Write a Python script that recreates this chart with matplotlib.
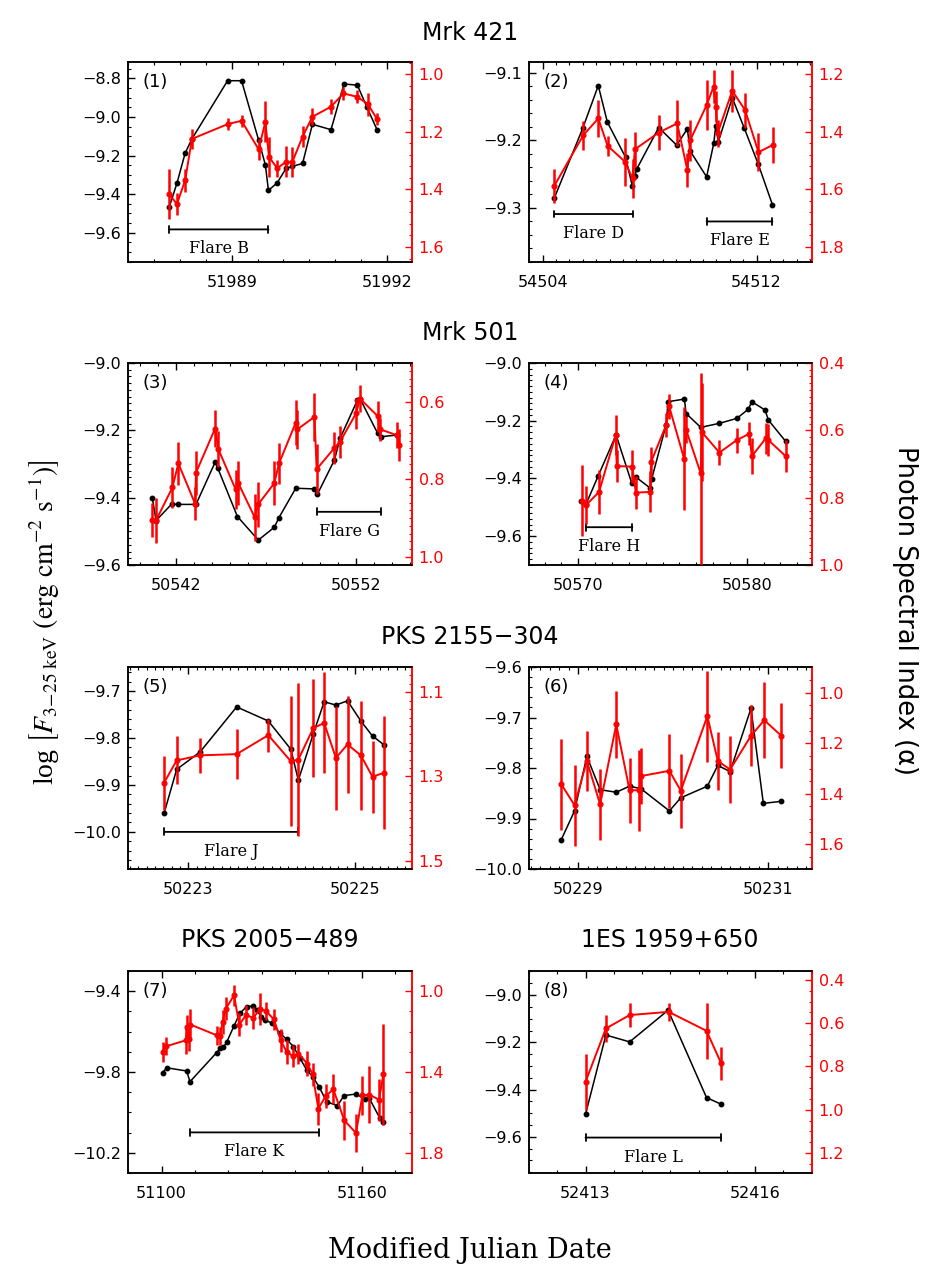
import matplotlib
matplotlib.use("Agg")
import matplotlib.pyplot as plt
from matplotlib.ticker import FixedLocator, AutoMinorLocator, FuncFormatter

# ---------------- data ----------------
# Panel 1: Mrk 421
mjd1_flux = [51987.79, 51987.94, 51988.10, 51988.23, 51988.92, 51989.19, 51989.52, 51989.65, 51989.71,
             51989.88, 51990.05, 51990.17, 51990.37, 51990.56, 51990.92, 51991.17, 51991.43, 51991.61, 51991.81]
flux1 = [-9.469, -9.344, -9.187, -9.114, -8.812, -8.812, -9.120, -9.248, -9.381, -9.341, -9.267, -9.256,
         -9.241, -9.038, -9.066, -8.829, -8.835, -8.947, -9.066]
mjd1_idx = [51987.79, 51987.94, 51988.10, 51988.23, 51988.93, 51989.19, 51989.52, 51989.65, 51989.72,
            51989.88, 51990.05, 51990.17, 51990.37, 51990.56, 51990.92, 51991.16, 51991.43, 51991.63, 51991.81]
idx1 = [1.416, 1.451, 1.368, 1.225, 1.173, 1.162, 1.261, 1.166, 1.287, 1.327, 1.304, 1.306, 1.217, 1.148,
        1.113, 1.067, 1.079, 1.104, 1.156]
idxerr1 = [0.086, 0.039, 0.040, 0.034, 0.020, 0.021, 0.036, 0.071, 0.069, 0.030, 0.053, 0.052, 0.036, 0.029,
           0.025, 0.023, 0.023, 0.040, 0.021]

# Panel 2: Mrk 421
mjd2_flux = [54504.44, 54505.50, 54506.08, 54506.42, 54507.10, 54507.35, 54507.45, 54507.51, 54508.34, 54509.01,
             54509.41, 54509.52, 54510.13, 54510.40, 54510.47, 54510.57, 54511.09, 54511.54, 54512.06, 54512.59]
flux2 = [-9.285, -9.182, -9.119, -9.173, -9.225, -9.267, -9.253, -9.243, -9.181, -9.207, -9.183, -9.216,
         -9.254, -9.204, -9.179, -9.202, -9.137, -9.182, -9.235, -9.295]
mjd2_idx = [54504.44, 54505.52, 54506.08, 54506.43, 54507.08, 54507.36, 54507.45, 54508.34, 54509.03, 54509.41,
            54509.52, 54510.13, 54510.39, 54510.47, 54510.54, 54511.09, 54511.57, 54512.07, 54512.60]
idx2 = [1.587, 1.412, 1.354, 1.449, 1.504, 1.562, 1.461, 1.403, 1.371, 1.533, 1.429, 1.308, 1.244, 1.313,
        1.406, 1.258, 1.325, 1.471, 1.446]
idxerr2 = [0.059, 0.050, 0.065, 0.035, 0.083, 0.069, 0.060, 0.060, 0.080, 0.060, 0.071, 0.087, 0.058, 0.054,
           0.047, 0.072, 0.061, 0.066, 0.064]

# Panel 3: Mrk 501
mjd3_flux = [50540.69, 50540.89, 50541.76, 50542.13, 50543.11, 50544.17, 50544.31, 50545.41, 50546.57, 50547.46,
             50547.72, 50548.65, 50549.67, 50549.85, 50550.80, 50551.11, 50552.07, 50552.22, 50553.20, 50553.37,
             50554.26]
flux3 = [-9.402, -9.468, -9.419, -9.420, -9.420, -9.295, -9.311, -9.456, -9.526, -9.488, -9.459, -9.372,
         -9.374, -9.390, -9.288, -9.224, -9.111, -9.106, -9.209, -9.219, -9.214]
mjd3_idx = [50540.69, 50540.89, 50541.80, 50542.13, 50543.06, 50543.11, 50544.17, 50544.35, 50545.31, 50545.46,
            50546.37, 50546.57, 50547.46, 50547.72, 50548.65, 50548.74, 50549.69, 50549.81, 50550.78, 50551.11,
            50552.00, 50552.22, 50553.20, 50553.33, 50554.26, 50554.41]
idx3 = [0.905, 0.906, 0.821, 0.759, 0.863, 0.783, 0.669, 0.722, 0.826, 0.810, 0.898, 0.864, 0.810, 0.759,
        0.654, 0.671, 0.639, 0.774, 0.720, 0.703, 0.630, 0.592, 0.637, 0.671, 0.686, 0.712]
idxerr3 = [0.043, 0.057, 0.053, 0.056, 0.043, 0.057, 0.047, 0.047, 0.051, 0.056, 0.060, 0.058, 0.056, 0.053,
           0.058, 0.050, 0.062, 0.064, 0.041, 0.041, 0.039, 0.034, 0.040, 0.029, 0.033, 0.041]

# Panel 4: Mrk 501
mjd4_flux = [50570.16, 50570.46, 50571.19, 50572.24, 50573.17, 50573.41, 50574.26, 50574.36, 50575.21, 50575.33,
             50576.30, 50576.40, 50577.27, 50578.38, 50579.41, 50580.10, 50580.30, 50581.09, 50581.29, 50582.32]
flux4 = [-9.479, -9.489, -9.390, -9.249, -9.416, -9.395, -9.433, -9.401, -9.215, -9.134, -9.125, -9.175,
         -9.223, -9.209, -9.192, -9.160, -9.134, -9.163, -9.198, -9.272]
mjd4_idx = [50570.20, 50570.46, 50571.23, 50572.22, 50572.28, 50573.21, 50573.41, 50574.26, 50574.32, 50575.21,
            50575.39, 50576.28, 50576.40, 50577.27, 50577.33, 50578.38, 50579.41, 50580.16, 50580.30, 50581.13,
            50581.29, 50582.32]
idx4 = [0.809, 0.822, 0.783, 0.614, 0.706, 0.708, 0.785, 0.783, 0.694, 0.585, 0.528, 0.684, 0.598, 0.728,
        0.605, 0.666, 0.629, 0.610, 0.677, 0.624, 0.629, 0.677]
idxerr4 = [0.106, 0.056, 0.065, 0.059, 0.047, 0.049, 0.049, 0.061, 0.044, 0.035, 0.037, 0.153, 0.040, 0.297,
           0.146, 0.037, 0.037, 0.035, 0.054, 0.047, 0.047, 0.047]

# Panel 5: PKS 2155-304
mjd5_flux = [50222.71, 50222.86, 50223.14, 50223.58, 50223.96, 50224.23, 50224.32, 50224.50, 50224.63, 50224.77,
             50224.91, 50225.07, 50225.21, 50225.35]
flux5 = [-9.960, -9.867, -9.830, -9.734, -9.764, -9.824, -9.890, -9.791, -9.723, -9.730, -9.721, -9.764,
         -9.796, -9.815]
mjd5_idx = [50222.71, 50222.86, 50223.14, 50223.58, 50223.96, 50224.23, 50224.32, 50224.50, 50224.63, 50224.77,
            50224.91, 50225.07, 50225.21, 50225.35]
idx5 = [1.315, 1.262, 1.250, 1.247, 1.202, 1.264, 1.260, 1.185, 1.173, 1.256, 1.224, 1.250, 1.301, 1.291]
idxerr5 = [0.064, 0.057, 0.041, 0.059, 0.039, 0.155, 0.181, 0.117, 0.120, 0.124, 0.115, 0.130, 0.086, 0.135]

# Panel 6: PKS 2155-304
mjd6_flux = [50228.82, 50228.96, 50229.09, 50229.23, 50229.40, 50229.54, 50229.66, 50229.96, 50230.08, 50230.36,
             50230.47, 50230.60, 50230.82, 50230.95, 50231.14]
flux6 = [-9.942, -9.885, -9.777, -9.843, -9.848, -9.836, -9.841, -9.885, -9.859, -9.836, -9.795, -9.807,
         -9.682, -9.870, -9.866]
mjd6_idx = [50228.82, 50228.96, 50229.09, 50229.23, 50229.40, 50229.54, 50229.64, 50229.66, 50229.96, 50230.08,
            50230.36, 50230.47, 50230.60, 50230.82, 50230.96, 50231.14]
idx6 = [1.362, 1.445, 1.270, 1.442, 1.126, 1.386, 1.386, 1.330, 1.309, 1.388, 1.093, 1.270, 1.304, 1.171,
        1.109, 1.171]
idxerr6 = [0.179, 0.160, 0.120, 0.141, 0.134, 0.129, 0.160, 0.110, 0.147, 0.147, 0.180, 0.114, 0.133, 0.120,
           0.151, 0.128]

# Panel 7: PKS 2005-489
mjd7_flux = [51100.3, 51101.5, 51107.5, 51108.5, 51116.5, 51117.5, 51118.5, 51119.5, 51121.7, 51123.5, 51125.5,
             51127.5, 51128.7, 51129.7, 51131.0, 51133.1, 51135.5, 51137.5, 51139.5, 51141.5, 51143.5, 51145.3,
             51147.2, 51149.5, 51152.7, 51154.7, 51158.3, 51161.0, 51162.3, 51165.5, 51166.5]
flux7 = [-9.803, -9.779, -9.795, -9.848, -9.704, -9.683, -9.678, -9.653, -9.572, -9.509, -9.476, -9.473,
         -9.493, -9.526, -9.542, -9.559, -9.608, -9.638, -9.674, -9.732, -9.790, -9.823, -9.873, -9.947,
         -9.967, -9.917, -9.909, -9.934, -9.931, -10.030, -10.046]
mjd7_idx = [51100.3, 51101.3, 51107.3, 51107.7, 51108.3, 51108.6, 51116.5, 51117.5, 51118.3, 51119.3, 51121.7,
            51123.3, 51125.3, 51127.5, 51129.5, 51131.3, 51133.7, 51135.7, 51137.5, 51139.5, 51141.0, 51143.7,
            51145.3, 51147.0, 51149.2, 51151.5, 51154.8, 51158.3, 51160.2, 51162.3, 51165.2, 51166.5]
idx7 = [1.301, 1.273, 1.243, 1.177, 1.235, 1.165, 1.218, 1.221, 1.152, 1.086, 1.020, 1.165, 1.119, 1.131,
        1.089, 1.098, 1.140, 1.243, 1.301, 1.322, 1.309, 1.359, 1.412, 1.582, 1.519, 1.486, 1.640, 1.702,
        1.516, 1.512, 1.537, 1.412]
idxerr7 = [0.048, 0.045, 0.066, 0.058, 0.060, 0.076, 0.046, 0.046, 0.058, 0.055, 0.053, 0.056, 0.050, 0.055,
           0.079, 0.046, 0.050, 0.058, 0.058, 0.055, 0.050, 0.063, 0.058, 0.079, 0.058, 0.074, 0.096, 0.096,
           0.096, 0.140, 0.104, 0.251]

# Panel 8: 1ES 1959+650
mjd8_flux = [52413.00, 52413.36, 52413.78, 52414.46, 52415.14, 52415.40]
flux8 = [-9.504, -9.169, -9.198, -9.064, -9.434, -9.462]
mjd8_idx = [52413.00, 52413.36, 52413.78, 52414.47, 52415.14, 52415.40]
idx8 = [0.871, 0.624, 0.562, 0.547, 0.635, 0.786]
idxerr8 = [0.131, 0.062, 0.054, 0.042, 0.131, 0.077]

# Flare intervals: (name, start MJD, end MJD, flux level of the bar)
flares1 = [("Flare B", 51987.79, 51989.71, -9.583)]
flares2 = [("Flare D", 54504.44, 54507.36, -9.309), ("Flare E", 54510.13, 54512.59, -9.320)]
flares3 = [("Flare G", 50549.85, 50553.37, -9.442)]
flares4 = [("Flare H", 50570.46, 50573.21, -9.569)]
flares5 = [("Flare J", 50222.71, 50224.32, -10.0)]
flares6 = []
flares7 = [("Flare K", 51108.5, 51147.2, -10.099)]
flares8 = [("Flare L", 52413.00, 52415.40, -9.603)]

sources = ["Mrk 421", "Mrk 501", "PKS 2155\u2212304", "PKS 2005\u2212489", "1ES 1959+650"]

# ---------------- drawing ----------------
W, H = 941, 1268
fig = plt.figure(figsize=(W / 100, H / 100), dpi=100)
plt.rcParams['font.family'] = ['DejaVu Sans']
plt.rcParams['mathtext.fontset'] = 'stix'

colx = [128.3, 529.0]
colw = [283.4, 282.7]
rows = [(62, 262), (363, 565), (667, 869), (971, 1173)]


def minus(v, fmt):
    return (fmt % v).replace('-', '\u2212')


def panel(col, row, tag, bx, by, rx, ry, re, flares,
          xlim, xt, xmin_n, ylim, yt, ymin_n, rlim, rt, rmin_n):
    top, bot = rows[row]
    ax = fig.add_axes([colx[col] / W, 1 - bot / H, colw[col] / W, (bot - top) / H])
    ax.plot(bx, by, '-o', color='black', lw=1.1, ms=3.2, zorder=3)
    ax.set_xlim(xlim)
    ax.set_ylim(ylim)
    ax.xaxis.set_major_locator(FixedLocator(xt))
    ax.xaxis.set_minor_locator(AutoMinorLocator(xmin_n))
    ax.xaxis.set_major_formatter(FuncFormatter(lambda v, p: '%d' % round(v)))
    ax.yaxis.set_major_locator(FixedLocator(yt))
    ax.yaxis.set_minor_locator(AutoMinorLocator(ymin_n))
    ax.yaxis.set_major_formatter(FuncFormatter(lambda v, p: minus(v, '%.1f')))
    ax.tick_params(axis='both', which='both', direction='in', top=True, labelsize=11.5)
    ax.tick_params(axis='both', which='major', length=5, width=1)
    ax.tick_params(axis='both', which='minor', length=2.5, width=0.8)
    ax.tick_params(axis='x', which='major', pad=9)
    ax.tick_params(axis='y', which='major', pad=5)
    for s in ax.spines.values():
        s.set_linewidth(1.1)
    ax.spines['right'].set_color('red')

    for name, x0, x1, lev in flares:
        ax.annotate('', xy=(x0, lev), xytext=(x1, lev),
                    arrowprops=dict(arrowstyle='|-|,widthA=0.25,widthB=0.25', color='black', lw=1.3,
                                    shrinkA=0, shrinkB=0))
        ax.annotate(name, xy=((x0 + x1) / 2, lev), xytext=(0, -14), textcoords='offset points',
                    ha='center', va='center', fontsize=11.5, family='DejaVu Serif')

    ax.text(0.05, 0.945, tag, transform=ax.transAxes, ha='left', va='top', fontsize=13)

    tw = ax.twinx()
    tw.errorbar(rx, ry, yerr=re, color='red', lw=1.4, elinewidth=1.8, marker='o', ms=3.4,
                capsize=0, zorder=4)
    tw.set_ylim(rlim)
    tw.yaxis.set_major_locator(FixedLocator(rt))
    tw.yaxis.set_minor_locator(AutoMinorLocator(rmin_n))
    tw.yaxis.set_major_formatter(FuncFormatter(lambda v, p: '%.1f' % v))
    tw.tick_params(axis='y', which='both', direction='in', colors='red', labelsize=11.5, pad=5)
    tw.tick_params(axis='y', which='major', length=5, width=1)
    tw.tick_params(axis='y', which='minor', length=2.5, width=0.8)
    for s in tw.spines.values():
        s.set_linewidth(1.1)
    tw.spines['right'].set_color('red')
    tw.spines['left'].set_color('black')
    return ax


panel(0, 0, '(1)', mjd1_flux, flux1, mjd1_idx, idx1, idxerr1, flares1,
      (51987.0, 51992.48), [51989, 51992], 6,
      (-9.752, -8.715), [-9.6, -9.4, -9.2, -9.0, -8.8], 4,
      (1.652, 0.958), [1.0, 1.2, 1.4, 1.6], 5)
panel(1, 0, '(2)', mjd2_flux, flux2, mjd2_idx, idx2, idxerr2, flares2,
      (54503.49, 54514.06), [54504, 54512], 16,
      (-9.380, -9.084), [-9.3, -9.2, -9.1], 5,
      (1.852, 1.158), [1.2, 1.4, 1.6, 1.8], 5)
panel(0, 1, '(3)', mjd3_flux, flux3, mjd3_idx, idx3, idxerr3, flares3,
      (50539.35, 50555.09), [50542, 50552], 10,
      (-9.6, -9.0), [-9.6, -9.4, -9.2, -9.0], 10,
      (1.021, 0.5), [0.6, 0.8, 1.0], 10)
panel(1, 1, '(4)', mjd4_flux, flux4, mjd4_idx, idx4, idxerr4, flares4,
      (50567.07, 50583.86), [50570, 50580], 10,
      (-9.7, -9.0), [-9.6, -9.4, -9.2, -9.0], 10,
      (1.0, 0.4), [0.4, 0.6, 0.8, 1.0], 10)
panel(0, 2, '(5)', mjd5_flux, flux5, mjd5_idx, idx5, idxerr5, flares5,
      (50222.28, 50225.68), [50223, 50225], 20,
      (-10.079, -9.649), [-10.0, -9.9, -9.8, -9.7], 5,
      (1.52, 1.04), [1.1, 1.3, 1.5], 10)
panel(1, 2, '(6)', mjd6_flux, flux6, mjd6_idx, idx6, idxerr6, flares6,
      (50228.48, 50231.46), [50229, 50231], 20,
      (-10.0, -9.6), [-10.0, -9.9, -9.8, -9.7, -9.6], 5,
      (1.697, 0.899), [1.0, 1.2, 1.4, 1.6], 4)
panel(0, 3, '(7)', mjd7_flux, flux7, mjd7_idx, idx7, idxerr7, flares7,
      (51090, 51175), [51100, 51160], 6,
      (-10.3, -9.3), [-10.2, -9.8, -9.4], 4,
      (1.9, 0.9), [1.0, 1.4, 1.8], 4)
panel(1, 3, '(8)', mjd8_flux, flux8, mjd8_idx, idx8, idxerr8, flares8,
      (52412.0, 52417.0), [52413, 52416], 6,
      (-9.753, -8.898), [-9.6, -9.4, -9.2, -9.0], 4,
      (1.293, 0.358), [0.4, 0.6, 0.8, 1.0, 1.2], 4)

# titles
tfs = 17
fig.text(470 / W, 1 - 33 / H, sources[0], ha='center', va='center', fontsize=tfs)
fig.text(470 / W, 1 - 333 / H, sources[1], ha='center', va='center', fontsize=tfs)
fig.text(470 / W, 1 - 637 / H, sources[2], ha='center', va='center', fontsize=tfs)
fig.text(270 / W, 1 - 940 / H, sources[3], ha='center', va='center', fontsize=tfs)
fig.text(670 / W, 1 - 940 / H, sources[4], ha='center', va='center', fontsize=tfs)

# axis labels
fig.text(45 / W, 1 - 622 / H,
         r'log $\left[F_{\rm 3\!-\!25\ keV}\ {\rm (erg\ cm^{-2}\ s^{-1})}\right]$',
         rotation=90, ha='center', va='center', fontsize=20, family='Liberation Serif')
fig.text(905 / W, 1 - 610 / H, 'Photon Spectral Index (\u03b1)', rotation=-90,
         ha='center', va='center', fontsize=18.5)
fig.text(470 / W, 1 - 1250 / H, 'Modified Julian Date', ha='center', va='center',
         fontsize=19.5, family='DejaVu Serif')

fig.savefig('out.png', dpi=100)
